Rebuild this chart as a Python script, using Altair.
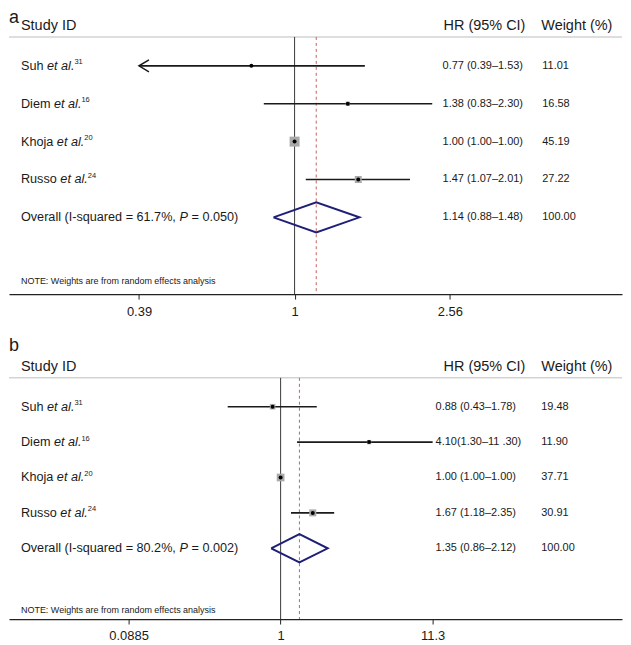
import altair as alt
import pandas as pd

FONT = "Liberation Sans"
INK = "#1a1a1a"

# ---------------- data ----------------
studies = ["Suh", "Diem", "Khoja", "Russo"]
study_refs = ["31", "16", "20", "24"]

a_hr = [0.77, 1.38, 1.00, 1.47]
a_lo = [0.39, 0.83, 1.00, 1.07]
a_hi = [1.53, 2.30, 1.00, 2.01]
a_weight = [11.01, 16.58, 45.19, 27.22]
a_hr_text = ["0.77 (0.39–1.53)", "1.38 (0.83–2.30)", "1.00 (1.00–1.00)", "1.47 (1.07–2.01)"]
a_w_text = ["11.01", "16.58", "45.19", "27.22"]
a_pooled = [1.14, 0.88, 1.48]          # estimate, lower, upper
a_pooled_text = "1.14 (0.88–1.48)"
a_i2 = "61.7%"
a_p = "0.050"
a_ticks = [0.39, 1, 2.56]

b_hr = [0.88, 4.10, 1.00, 1.67]
b_lo = [0.43, 1.30, 1.00, 1.18]
b_hi = [1.78, 11.30, 1.00, 2.35]
b_weight = [19.48, 11.90, 37.71, 30.91]
b_hr_text = ["0.88 (0.43–1.78)", "4.10(1.30–11 .30)", "1.00 (1.00–1.00)", "1.67 (1.18–2.35)"]
b_w_text = ["19.48", "11.90", "37.71", "30.91"]
b_pooled = [1.35, 0.86, 2.12]
b_pooled_text = "1.35 (0.86–2.12)"
b_i2 = "80.2%"
b_p = "0.002"
b_ticks = [0.0885, 1, 11.3]

# ------------- text width helper (Arial / Liberation Sans metrics) -------------
ARIAL = {' ': 278, '(': 333, ')': 333, '-': 333, '.': 278, ',': 278, '=': 584, '%': 889,
         'a': 556, 'd': 556, 'e': 556, 'h': 556, 'i': 222, 'j': 222, 'l': 222, 'm': 833,
         'o': 556, 'q': 556, 'r': 333, 's': 500, 't': 278, 'u': 556, 'v': 500,
         'D': 722, 'I': 278, 'K': 667, 'O': 778, 'P': 667, 'R': 722, 'S': 667}
for d in "0123456789":
    ARIAL[d] = 556


def tw(s, fs):
    return sum(ARIAL.get(c, 556) for c in s) / 1000.0 * fs


W = 615
H = 286
ROW_FS = 12.7
HEAD_FS = 14.5
NUM_FS = 11
NAME_X = 12


def txt(df, x, fs, style="normal", dy=0, baseline="middle", field="t", y=None):
    enc = dict(x=alt.value(x), text=alt.Text(f"{field}:N"))
    enc["y"] = y
    return alt.Chart(df).mark_text(
        align="left", baseline=baseline, font=FONT, fontSize=fs, fontStyle=style,
        color=INK, dy=dy).encode(**enc)


def panel(letter, hr, lo, hi, weight, hr_text, w_text, pooled, pooled_text, i2, p, ticks, g):
    xs = alt.Scale(type="log", domain=g["xdom"], nice=False)
    ys = alt.Scale(domain=g["ydom"], nice=False, zero=False)
    ax = alt.Axis(values=ticks, format="~g", tickSize=5, labelPadding=6, labelFontSize=13,
                  labelFont=FONT, labelColor=INK, domainColor="#222222", tickColor="#222222",
                  domainWidth=1.2, tickWidth=1, grid=False, title=None, labelFlush=False,
                  labelOverlap=False)
    n = len(hr)
    df = pd.DataFrame({"row": list(range(1, n + 1)), "hr": hr, "lo": lo, "hi": hi,
                       "weight": weight})
    Y = alt.Y("row:Q", scale=ys, axis=None)

    layers = []
    # header separator
    layers.append(alt.Chart(pd.DataFrame({"k": [0]})).mark_rule(color="#d3d3d3", strokeWidth=1.5)
                  .encode(x=alt.value(0), x2=alt.value(W), y=alt.value(g["line_y"])))
    # null line and pooled line
    layers.append(alt.Chart(pd.DataFrame({"v": [1.0]})).mark_rule(color="#3a3a3a", strokeWidth=1)
                  .encode(x=alt.X("v:Q", scale=xs, axis=ax), y=alt.value(g["line_y"]), y2=alt.value(H)))
    layers.append(alt.Chart(pd.DataFrame({"v": [pooled[0]]}))
                  .mark_rule(color="#c0645c", strokeWidth=1, strokeDash=[3, 3])
                  .encode(x=alt.X("v:Q", scale=xs, axis=ax), y=alt.value(g["line_y"]), y2=alt.value(H)))
    # confidence intervals
    layers.append(alt.Chart(df).mark_rule(color=INK, strokeWidth=1.6)
                  .encode(x=alt.X("lo:Q", scale=xs, axis=ax), x2="hi:Q", y=Y))
    # weight boxes
    layers.append(alt.Chart(df).mark_square(color="#a9a9a9", opacity=1)
                  .encode(x=alt.X("hr:Q", scale=xs, axis=ax), y=Y,
                          size=alt.Size("weight:Q", scale=alt.Scale(domain=g["sdom"], range=g["srng"], clamp=True),
                                        legend=None)))
    # point estimates
    layers.append(alt.Chart(df).mark_circle(color="#000000", size=16, opacity=1)
                  .encode(x=alt.X("hr:Q", scale=xs, axis=ax), y=Y))
    # arrow for CI beyond axis range
    layers.append(alt.Chart(df).transform_filter(f"datum.lo <= {ticks[0]}")
                  .mark_point(shape="M 2 -1.2 L 0 0 L 2 1.2", filled=False, size=100,
                              strokeWidth=1.5, color=INK, opacity=1)
                  .encode(x=alt.X("lo:Q", scale=xs, axis=ax), y=Y))
    # pooled diamond
    r0 = n + 1
    h = 0.4
    dia = pd.DataFrame({"i": [0, 1, 2, 3, 4],
                        "x": [pooled[1], pooled[0], pooled[2], pooled[0], pooled[1]],
                        "row": [r0, r0 - h, r0, r0 + h, r0]})
    layers.append(alt.Chart(dia).mark_line(color="#1f1f78", strokeWidth=2)
                  .encode(x=alt.X("x:Q", scale=xs, axis=ax), y=Y, order=alt.Order("i:Q")))

    # panel letter & headers & note
    one = lambda s: pd.DataFrame({"t": [s]})
    layers.append(txt(one(letter), 0, 18, baseline="top", y=alt.value(g["letter_y"])))
    layers.append(txt(one("Study ID"), NAME_X, HEAD_FS, y=alt.value(g["header_y"])))
    layers.append(txt(one("HR (95% CI)"), g["hr_head_x"], HEAD_FS, y=alt.value(g["header_y"])))
    layers.append(txt(one("Weight (%)"), g["w_head_x"], HEAD_FS, y=alt.value(g["header_y"])))
    layers.append(txt(one("NOTE: Weights are from random effects analysis"), NAME_X, 9,
                      y=alt.value(g["note_y"])))

    # study names: name + italic "et al." + superscript reference
    for i, (s, r) in enumerate(zip(studies, study_refs)):
        rowdf = pd.DataFrame({"row": [i + 1], "t1": [s], "t2": ["et al."], "t3": [r]})
        x1 = NAME_X
        x2 = x1 + tw(s + " ", ROW_FS)
        x3 = x2 + tw("et al.", ROW_FS)
        layers.append(txt(rowdf, x1, ROW_FS, field="t1", y=Y))
        layers.append(txt(rowdf, x2, ROW_FS, style="italic", field="t2", y=Y))
        layers.append(txt(rowdf, x3, 7.5, dy=-3.5, field="t3", y=Y))
    # overall label with italic P
    p1 = f"Overall (I-squared = {i2},"
    p3 = f"= {p})"
    odf = pd.DataFrame({"row": [r0], "t1": [p1], "t2": ["P"], "t3": [p3]})
    layers.append(txt(odf, NAME_X, ROW_FS, field="t1", y=Y))
    layers.append(txt(odf, NAME_X + tw(p1 + " ", ROW_FS), ROW_FS, style="italic", field="t2", y=Y))
    layers.append(txt(odf, NAME_X + tw(p1 + " P ", ROW_FS), ROW_FS, field="t3", y=Y))

    # numeric columns
    tdf = pd.DataFrame({"row": list(range(1, n + 2)),
                        "hr_t": hr_text + [pooled_text],
                        "w_t": w_text + ["100.00"]})
    layers.append(txt(tdf, g["hr_x"], NUM_FS, field="hr_t", y=Y))
    layers.append(txt(tdf, g["w_x"], NUM_FS, field="w_t", y=Y))

    return alt.layer(*layers).properties(width=W, height=H)


ga = dict(xdom=[0.1776, 7.252], ydom=[7.026, -0.5], letter_y=0, header_y=17, line_y=28,
          note_y=273, hr_x=435, hr_head_x=436, w_x=535, w_head_x=534,
          sdom=[10, 45.19], srng=[0, 100])
gb = dict(xdom=[0.01314, 231.6], ydom=[7.0, -1.056], letter_y=3.5, header_y=33, line_y=44,
          note_y=277, hr_x=428, hr_head_x=436, w_x=534, w_head_x=534,
          sdom=[0, 37.71], srng=[0, 60])

pa = panel("a", a_hr, a_lo, a_hi, a_weight, a_hr_text, a_w_text, a_pooled, a_pooled_text,
           a_i2, a_p, a_ticks, ga)
pb = panel("b", b_hr, b_lo, b_hi, b_weight, b_hr_text, b_w_text, b_pooled, b_pooled_text,
           b_i2, b_p, b_ticks, gb)

chart = (
    alt.vconcat(pa, pb, spacing=40, bounds="flush")
    .resolve_scale(x="independent", y="independent", size="independent")
    .properties(padding=0, background="white")
    .configure(font=FONT)
    .configure_view(strokeWidth=0, stroke=None)
)

chart.save("out.html", embed_options={"renderer": "svg", "actions": False})
